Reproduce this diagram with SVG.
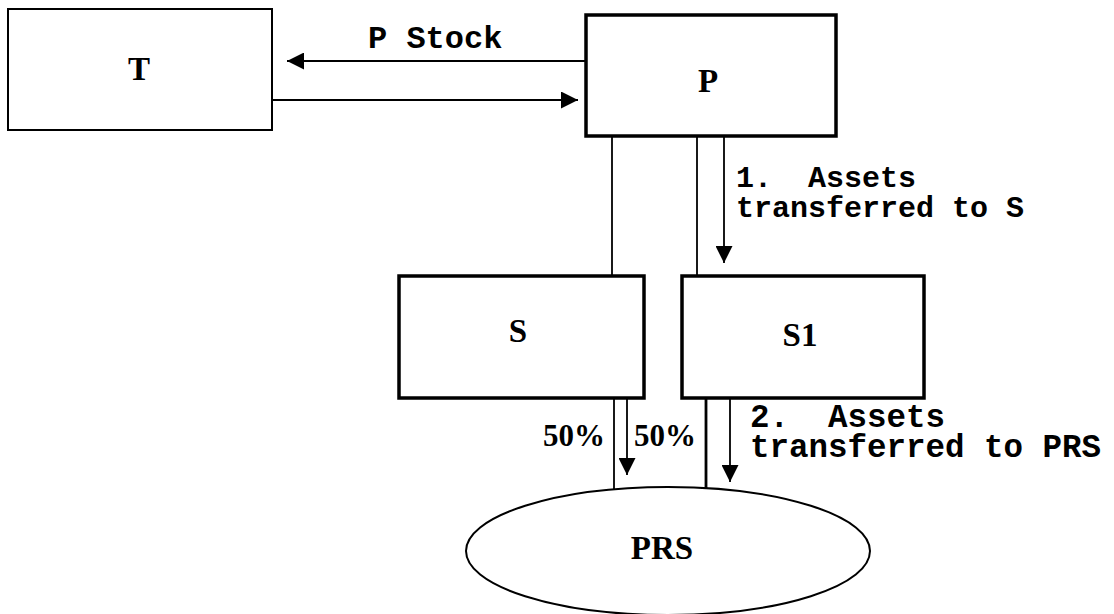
<svg xmlns="http://www.w3.org/2000/svg" width="1114" height="614" viewBox="0 0 1114 614">
<defs>
<style>
.box{fill:#fff;stroke:#000;stroke-width:3.5}
.thin{fill:#fff;stroke:#000;stroke-width:2}
.ln{fill:none;stroke:#000;stroke-width:1.8}
.lab{font-family:"Liberation Serif","Times New Roman",serif;font-weight:bold;font-size:33px;fill:#000}
.pct{font-family:"Liberation Serif","Times New Roman",serif;font-weight:bold;font-size:31px;fill:#000}
.mono{font-family:"Liberation Mono","Courier New",monospace;font-weight:bold;font-size:30px;fill:#000;white-space:pre}
</style>
<marker id="ah" viewBox="0 0 17 17" refX="17" refY="8.5" markerWidth="17" markerHeight="17" markerUnits="userSpaceOnUse" orient="auto">
<path d="M0,0 L17,8.5 L0,17 Z" fill="#000"/>
</marker>
</defs>
<rect width="1114" height="614" fill="#fff"/>
<g id="connectors">
<line class="ln" x1="586" y1="61" x2="287" y2="61" marker-end="url(#ah)"/>
<line class="ln" x1="272" y1="100" x2="578" y2="100" marker-end="url(#ah)"/>
<line class="ln" x1="612" y1="136" x2="612" y2="276"/>
<line class="ln" x1="697" y1="136" x2="697" y2="276"/>
<line class="ln" x1="724" y1="137" x2="724" y2="263" marker-end="url(#ah)"/>
<line class="ln" x1="614" y1="398" x2="614" y2="490"/>
<line class="ln" x1="627" y1="398" x2="627" y2="475" marker-end="url(#ah)"/>
<line class="ln" x1="706" y1="398" x2="706" y2="489" style="stroke-width:2.8"/>
<line class="ln" x1="730" y1="398" x2="730" y2="482" marker-end="url(#ah)"/>
<text class="mono" x="368" y="48" style="font-size:32px">P Stock</text>
<text class="mono" xml:space="preserve"><tspan x="736" y="187">1.  Assets</tspan><tspan x="736" y="217">transferred to S</tspan></text>
<text class="mono" xml:space="preserve" style="font-size:32.5px"><tspan x="750" y="427">2.  Assets</tspan><tspan x="750" y="457">transferred to PRS</tspan></text>
<text class="pct" x="605" y="446" text-anchor="end">50%</text>
<text class="pct" x="634" y="446">50%</text>
</g>
<g id="node-T">
<rect class="thin" x="8" y="9" width="264" height="121"/>
<text class="lab" x="139" y="80" text-anchor="middle">T</text>
</g>
<g id="node-P">
<rect class="box" x="586" y="15" width="250" height="121"/>
<text class="lab" x="708" y="92" text-anchor="middle">P</text>
</g>
<g id="node-S">
<rect class="box" x="399" y="276" width="245" height="122"/>
<text class="lab" x="518" y="342" text-anchor="middle">S</text>
</g>
<g id="node-S1">
<rect class="box" x="682" y="276" width="242" height="122"/>
<text class="lab" x="800" y="346" text-anchor="middle">S1</text>
</g>
<g id="node-PRS">
<ellipse cx="668" cy="551" rx="202" ry="64" fill="#fff" stroke="#000" stroke-width="2"/>
<text class="lab" x="662" y="559" text-anchor="middle">PRS</text>
</g>
</svg>
